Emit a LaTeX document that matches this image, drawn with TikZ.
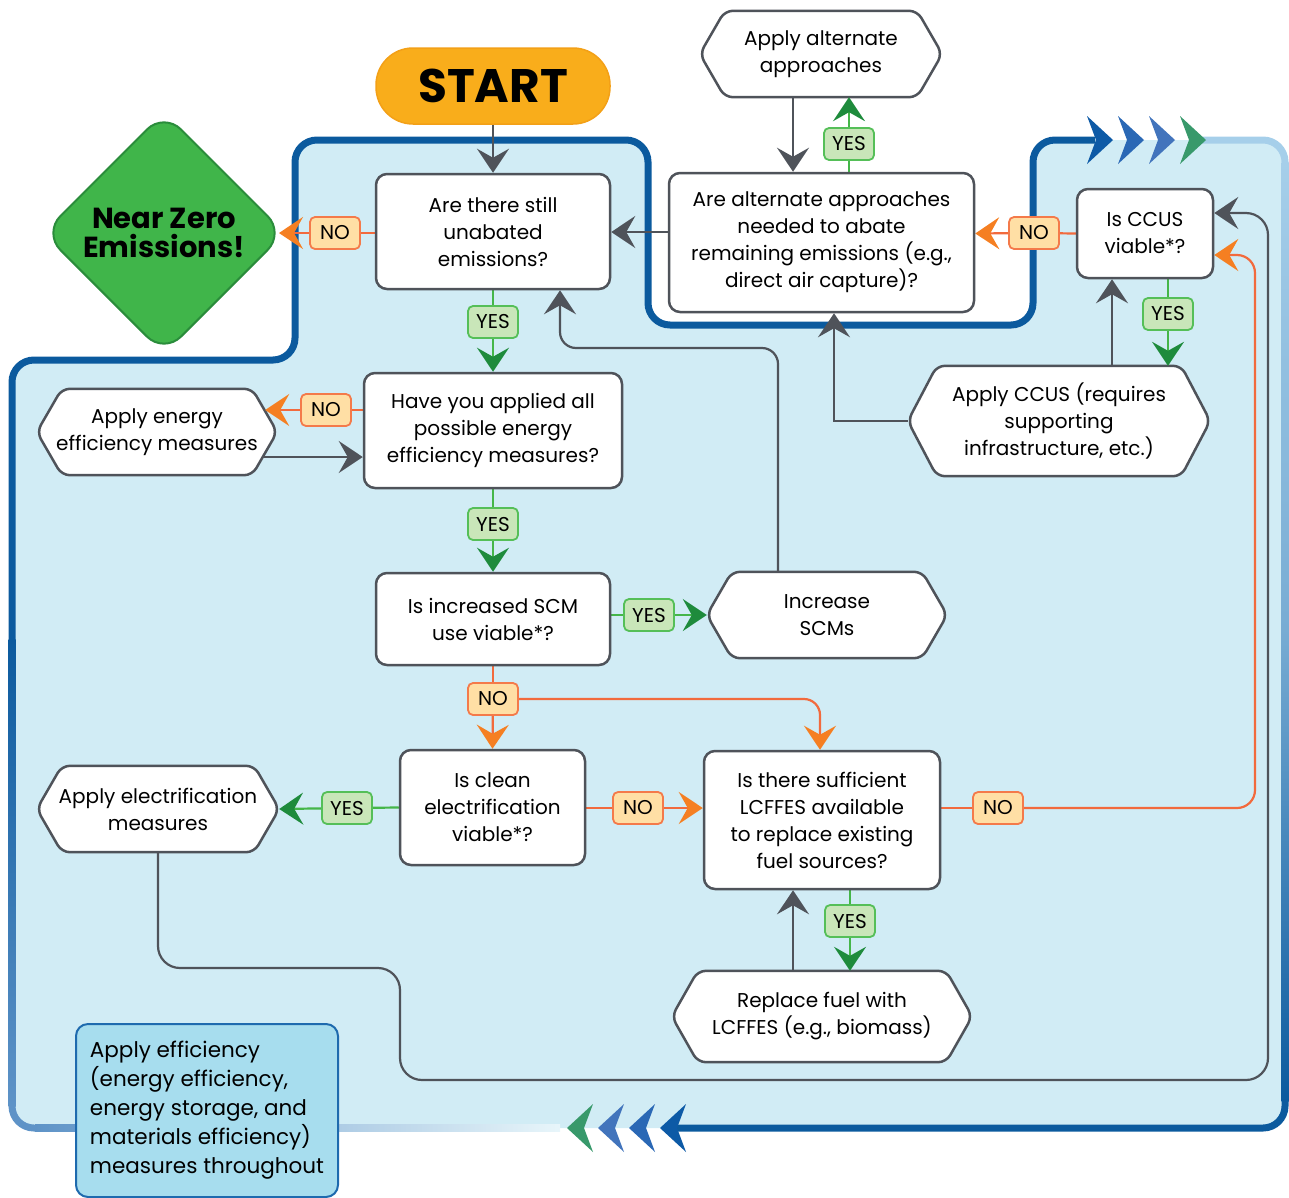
\documentclass[tikz,border=0pt]{standalone}
\usepackage{fontspec}
\setmainfont{Poppins}
\usetikzlibrary{arrows.meta,shapes.geometric,calc}
\pgfdeclarelayer{back}
\pgfdeclarelayer{mid}
\pgfsetlayers{back,mid,main}

\definecolor{cRegion}{HTML}{D1ECF5}
\definecolor{cDarkBlue}{HTML}{0B5A9E}
\definecolor{cFadeBlue}{HTML}{A6CFEA}
\definecolor{cFadeLeft}{HTML}{5E93C7}
\definecolor{cBoxGray}{HTML}{4F535A}
\definecolor{cYesFill}{HTML}{C9E6B9}
\definecolor{cYesDraw}{HTML}{55BF58}
\definecolor{cNoFill}{HTML}{FFDFA5}
\definecolor{cNoDraw}{HTML}{F47A4A}
\definecolor{cGreenLine}{HTML}{45B649}
\definecolor{cGreenTip}{HTML}{1E8B3C}
\definecolor{cOrangeLine}{HTML}{F26A3D}
\definecolor{cOrangeTip}{HTML}{F57F22}
\definecolor{cStartFill}{HTML}{F9AD1B}
\definecolor{cStartDraw}{HTML}{F3A017}
\definecolor{cZeroFill}{HTML}{40B54A}
\definecolor{cZeroDraw}{HTML}{2A8C3B}
\definecolor{cNoteFill}{HTML}{A7DDEE}
\definecolor{cNoteDraw}{HTML}{1E6AAE}
\definecolor{cChevA}{HTML}{0D5AA6}
\definecolor{cChevB}{HTML}{2A68B5}
\definecolor{cChevC}{HTML}{4274BC}
\definecolor{cChevD}{HTML}{38996B}

\newcommand\bodyfnt{\fontsize{20}{27}\selectfont}
\newcommand\labfnt{\fontsize{20}{24}\selectfont}
\newcommand\notefnt{\fontsize{21.5}{29}\selectfont}
\newcommand\startfnt{\fontsize{47}{52}\selectfont\bfseries}
\newcommand\zerofnt{\fontsize{29}{29}\selectfont\bfseries}

% hexagonal outline around a named text node
\newcommand\hexpath[2]{%
  \begin{pgfonlayer}{mid}
    \path[hexline] (#1.west) -- ([xshift=#2]#1.north west) -- ([xshift=-#2]#1.north east)
      -- (#1.east) -- ([xshift=-#2]#1.south east) -- ([xshift=#2]#1.south west) -- cycle;
  \end{pgfonlayer}}
% flow chevrons
\newcommand\chevR[3]{\fill[#3] (#1,#2) -- ++(-26,-24) -- ++(9,24) -- ++(-9,24) -- cycle;}
\newcommand\chevL[3]{\fill[#3] (#1,#2) -- ++(26,-24) -- ++(-9,24) -- ++(9,24) -- cycle;}

\tikzset{
  qbox/.style={rectangle, rounded corners=11pt, draw=cBoxGray, line width=2.5pt, fill=white,
    align=center, font=\bodyfnt, inner sep=0pt},
  hexnode/.style={rectangle, align=center, font=\bodyfnt, inner sep=0pt},
  hexline/.style={draw=cBoxGray, line width=2.5pt, fill=white, rounded corners=8pt, line join=round},
  yeslab/.style={rectangle, rounded corners=5pt, draw=cYesDraw, line width=1.8pt, fill=cYesFill,
    minimum width=50pt, minimum height=32pt, inner sep=0pt, font=\labfnt},
  nolab/.style={rectangle, rounded corners=5pt, draw=cNoDraw, line width=1.8pt, fill=cNoFill,
    minimum width=50pt, minimum height=32pt, inner sep=0pt, font=\labfnt},
  grayline/.style={draw=cBoxGray, line width=2.2pt},
  greenline/.style={draw=cGreenLine, line width=2.2pt},
  orangeline/.style={draw=cOrangeLine, line width=2.2pt},
  graytip/.style={-{Stealth[length=24pt,width=32pt,inset=9pt,color=cBoxGray]}},
  greentip/.style={-{Stealth[length=24pt,width=32pt,inset=9pt,color=cGreenTip]}},
  orangetip/.style={-{Stealth[length=24pt,width=32pt,inset=9pt,color=cOrangeTip]}},
}

\begin{document}
\begin{tikzpicture}[x=1pt,y=-1pt]
\useasboundingbox (0,0) rectangle (1289,1197);

% ---------- loop region ----------
\begin{pgfonlayer}{back}
  \fill[cRegion, rounded corners=22pt] (295,140) -- (648,140) -- (648,325) -- (1033,325)
    -- (1033,140) -- (1285,140) -- (1285,1128) -- (12,1128) -- (12,360) -- (295,360) -- cycle;
  \draw[cDarkBlue, line width=7pt, rounded corners=22pt] (12,640) -- (12,360) -- (295,360)
    -- (295,140) -- (648,140) -- (648,325) -- (1033,325) -- (1033,140) -- (1095,140);
  \shade[top color=cDarkBlue, bottom color=cFadeLeft] (8.5,639) rectangle (15.5,1106);
  \draw[cFadeLeft, line width=7pt, rounded corners=22pt] (12,1105) -- (12,1128) -- (36,1128);
  \shade[left color=cFadeLeft, right color=cRegion!50!white] (35,1124.5) rectangle (560,1131.5);
  \draw[cDarkBlue, line width=7pt, rounded corners=22pt] (668,1128) -- (1285,1128) -- (1285,1100);
  \shade[top color=cFadeBlue, bottom color=cDarkBlue, middle color=cFadeBlue!70!cDarkBlue]
    (1281.5,162) rectangle (1288.5,1101);
  \draw[cFadeBlue, line width=7pt, rounded corners=22pt] (1200,140) -- (1285,140) -- (1285,164);
  \chevR{1113}{140}{cChevA}
  \chevR{1144}{140}{cChevB}
  \chevR{1175}{140}{cChevC}
  \chevR{1206}{140}{cChevD}
  \chevL{567}{1128}{cChevD}
  \chevL{598}{1128}{cChevC}
  \chevL{629}{1128}{cChevB}
  \chevL{660}{1128}{cChevA}
\end{pgfonlayer}

% ---------- terminals ----------
\node[rectangle, rounded corners=37pt, fill=cStartFill, draw=cStartDraw, line width=1.5pt,
  minimum width=234pt, minimum height=76pt, font=\startfnt] (start) at (493,86) {START};
\node[diamond, aspect=1, draw=cZeroDraw, fill=cZeroFill, line width=2pt, minimum width=242pt,
  minimum height=242pt, rounded corners=24pt, inner sep=0pt, align=center, font=\zerofnt]
  (zero) at (164,233) {Near Zero\\Emissions!};

% ---------- decisions ----------
\node[qbox, minimum width=234pt, minimum height=115pt] (q1) at (493,231.5)
  {Are there still\\unabated\\emissions?};
\node[qbox, minimum width=258pt, minimum height=115pt] (q2) at (493,430.5)
  {Have you applied all\\possible energy\\efficiency measures?};
\node[qbox, minimum width=234pt, minimum height=92pt] (q3) at (493,619)
  {Is increased SCM\\use viable*?};
\node[qbox, minimum width=185pt, minimum height=115pt] (q4) at (492.5,807.5)
  {Is clean\\electrification\\viable*?};
\node[qbox, minimum width=236pt, minimum height=138pt] (q5) at (822,820)
  {Is there sufficient\\LCFFES available\\to replace existing\\fuel sources?};
\node[qbox, minimum width=305pt, minimum height=139pt] (q6) at (821.5,242.5)
  {Are alternate approaches\\needed to abate\\remaining emissions (e.g.,\\direct air capture)?};
\node[qbox, minimum width=136pt, minimum height=89pt] (ccus) at (1145,233.5)
  {Is CCUS\\viable*?};

% ---------- actions ----------
\node[hexnode, minimum width=240pt, minimum height=86pt] (a1) at (157,432)
  {Apply energy\\efficiency measures};
\hexpath{a1}{25pt}
\node[hexnode, minimum width=240pt, minimum height=86pt] (a2) at (827,615)
  {Increase\\SCMs};
\hexpath{a2}{25pt}
\node[hexnode, minimum width=242pt, minimum height=86pt] (a3) at (158,809)
  {Apply electrification\\measures};
\hexpath{a3}{25pt}
\node[hexnode, minimum width=300pt, minimum height=91pt] (a4) at (822,1016.5)
  {Replace fuel with\\LCFFES (e.g., biomass)};
\hexpath{a4}{26pt}
\node[hexnode, minimum width=242pt, minimum height=86pt] (a5) at (821,54)
  {Apply alternate\\approaches};
\hexpath{a5}{25pt}
\node[hexnode, minimum width=302pt, minimum height=110pt] (a6) at (1059,421)
  {Apply CCUS (requires\\supporting\\infrastructure, etc.)};
\hexpath{a6}{29pt}

% ---------- branch labels ----------
\node[nolab]  (no1)  at (335,233) {NO};
\node[yeslab] (yes1) at (493,322) {YES};
\node[nolab]  (no2)  at (326,410) {NO};
\node[yeslab] (yes2) at (493,524) {YES};
\node[yeslab] (yes3) at (649,615) {YES};
\node[nolab]  (no3)  at (493,699) {NO};
\node[yeslab] (yes4) at (347,808) {YES};
\node[nolab]  (no4)  at (638,808) {NO};
\node[nolab]  (no5)  at (998,808) {NO};
\node[yeslab] (yes5) at (850,921) {YES};
\node[nolab]  (no6)  at (1034,233) {NO};
\node[yeslab] (yes6) at (849,144) {YES};
\node[yeslab] (yes7) at (1168,314) {YES};

% ---------- connectors ----------
\begin{pgfonlayer}{mid}
\draw[grayline, graytip] (start.south) -- (q1.north);

\draw[orangeline] (q1.west |- no1) -- (no1);
\draw[orangeline, orangetip] (no1) -- ([xshift=-7pt]zero.east);
\draw[greenline] (q1.south) -- (yes1);
\draw[greenline, greentip] (yes1) -- (q2.north);

\draw[orangeline] (q2.west |- no2) -- (no2);
\draw[orangeline, orangetip] (no2) -- ([xshift=-12pt,yshift=22pt]a1.east);
\draw[grayline, graytip] ([xshift=-14pt,yshift=-25pt]a1.east) -- (q2.west |- 0,457);
\draw[greenline] (q2.south) -- (yes2);
\draw[greenline, greentip] (yes2) -- (q3.north);

\draw[greenline] (q3.east |- yes3) -- (yes3);
\draw[greenline, greentip] (yes3) -- (a2.west);
\draw[grayline, graytip, rounded corners=16pt] ([xshift=-49pt]a2.north) |- (560,348)
  -- ([xshift=67pt]q1.south);
\draw[orangeline] (q3.south) -- (no3);
\draw[orangeline, orangetip] (no3) -- (q4.north);
\draw[orangeline, orangetip, rounded corners=16pt] (no3.east) -| ([xshift=-2pt]q5.north);

\draw[greenline] (q4.west) -- (yes4);
\draw[greenline, greentip] (yes4) -- (a3.east);
\draw[orangeline] (q4.east |- no4) -- (no4);
\draw[orangeline, orangetip] (no4) -- (q5.west |- no4);
\draw[grayline, graytip, rounded corners=22pt] (a3.south) -- (158,968) -- (400,968)
  -- (400,1080) -- (1268,1080) -- (1268,213) -- (ccus.east |- 0,213);

\draw[orangeline] (q5.east |- no5) -- (no5);
\draw[orangeline, orangetip, rounded corners=18pt] (no5.east) -- (1255,808) -- (1255,255)
  -- (ccus.east |- 0,255);
\draw[greenline] ([xshift=28pt]q5.south) -- (yes5);
\draw[greenline, greentip] (yes5) -- ([xshift=28pt]a4.north);
\draw[grayline, graytip] ([xshift=-29pt]a4.north) -- ([xshift=-29pt]q5.south);

\draw[orangeline] (ccus.west) -- (no6);
\draw[orangeline, orangetip] (no6) -- (q6.east |- ccus.west);
\draw[grayline, graytip] (q6.west |- 0,232) -- (q1.east |- 0,232);
\draw[greenline] ([xshift=27.5pt]q6.north) -- (yes6);
\draw[greenline, greentip] (yes6) -- ([xshift=28pt]a5.south);
\draw[grayline, graytip] ([xshift=-28pt]a5.south) -- ([xshift=-28.5pt]q6.north);

\draw[greenline] ([xshift=23pt]ccus.south) -- (yes7);
\draw[greenline, greentip] (yes7) -- ([xshift=109pt]a6.north);
\draw[grayline, graytip] ([xshift=53pt]a6.north) -- ([xshift=-33pt]ccus.south);
\draw[grayline, graytip] (a6.west) -| ([xshift=12.5pt]q6.south);
\end{pgfonlayer}

% ---------- note ----------
\node[rectangle, draw=cNoteDraw, fill=cNoteFill, line width=2pt, rounded corners=12pt,
  anchor=north west, minimum width=262pt, minimum height=173pt,
  inner xsep=0pt, inner ysep=0pt, align=left, font=\notefnt] (note) at (75,1023)
  {Apply efficiency\\(energy efficiency,\\energy storage, and\\materials efficiency)\\measures throughout};
\end{tikzpicture}
\end{document}
